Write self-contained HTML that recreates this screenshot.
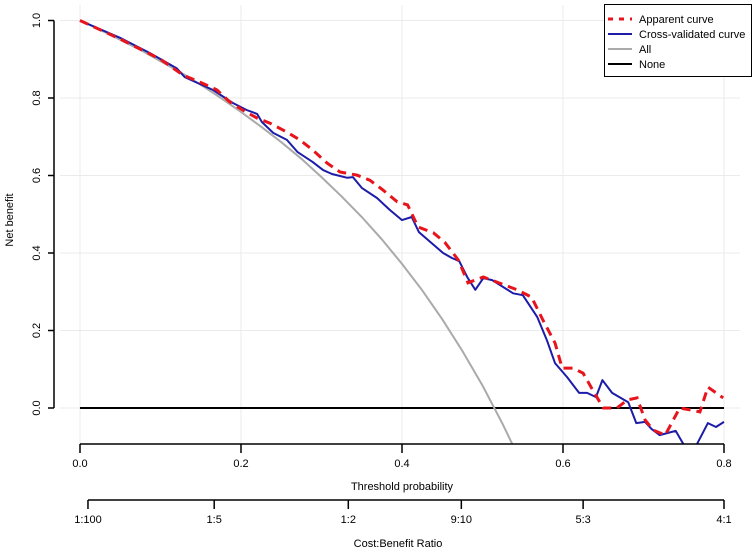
<!DOCTYPE html>
<html><head><meta charset="utf-8">
<style>
html,body{margin:0;padding:0;background:#fff;}
svg{display:block;font-family:"Liberation Sans",sans-serif;}
</style></head>
<body>
<svg id="chart" width="754" height="552" viewBox="0 0 754 552">
<defs><clipPath id="plotclip"><rect x="60" y="0" width="680" height="444.5"/></clipPath></defs>
<g id="grid"></g>
<g id="series" clip-path="url(#plotclip)"></g>
<g id="axes"></g>
<g id="legend">
<rect x="604.5" y="4.5" width="147" height="72" fill="#fff" stroke="#000" stroke-width="1"/>
<g><line x1="608" y1="19" x2="632" y2="19" stroke="#e8141c" stroke-width="3" stroke-dasharray="5,6"/><text x="639" y="23" font-size="11">Apparent curve</text></g>
<g><line x1="608" y1="34" x2="632" y2="34" stroke="#1c1ca8" stroke-width="2"/><text x="639" y="38" font-size="11">Cross-validated curve</text></g>
<g><line x1="608" y1="49" x2="632" y2="49" stroke="#aaaaaa" stroke-width="2"/><text x="639" y="53" font-size="11">All</text></g>
<g><line x1="608" y1="64" x2="632" y2="64" stroke="#000" stroke-width="2"/><text x="639" y="68" font-size="11">None</text></g>
</g>
</svg>
<script>
const xTicks=[0,0.2,0.4,0.6,0.8];
const xTickLabels=["0.0","0.2","0.4","0.6","0.8"];
const yTicks=[0,0.2,0.4,0.6,0.8,1.0];
const yTickLabels=["0.0","0.2","0.4","0.6","0.8","1.0"];
const ratioTicks=[0.0099,0.1667,0.3333,0.4737,0.625,0.8];
const ratioLabels=["1:100","1:5","1:2","9:10","5:3","4:1"];
const allX=[0,0.025,0.05,0.075,0.1,0.125,0.15,0.175,0.2,0.225,0.25,0.275,0.3,0.325,0.35,0.375,0.4,0.425,0.45,0.475,0.5,0.525,0.54];
const allY=[1,0.976,0.95,0.924,0.895,0.866,0.834,0.8,0.764,0.726,0.686,0.643,0.596,0.546,0.493,0.435,0.372,0.304,0.229,0.147,0.058,-0.041,-0.106];
const cvX=[0,0.05,0.087,0.12,0.13,0.165,0.19,0.207,0.22,0.226,0.24,0.257,0.27,0.289,0.302,0.313,0.332,0.339,0.35,0.369,0.385,0.4,0.412,0.421,0.451,0.462,0.471,0.481,0.491,0.501,0.512,0.538,0.55,0.568,0.58,0.59,0.605,0.62,0.63,0.641,0.649,0.661,0.681,0.691,0.702,0.71,0.72,0.74,0.75,0.766,0.78,0.79,0.8];
const cvY=[1,0.955,0.916,0.877,0.854,0.821,0.787,0.769,0.759,0.738,0.71,0.692,0.661,0.635,0.614,0.604,0.594,0.596,0.568,0.542,0.511,0.485,0.493,0.454,0.4,0.387,0.379,0.338,0.305,0.335,0.33,0.296,0.291,0.235,0.175,0.116,0.08,0.039,0.039,0.028,0.072,0.039,0.015,-0.039,-0.036,-0.054,-0.07,-0.059,-0.095,-0.095,-0.039,-0.049,-0.036];
const apX=[0,0.05,0.1,0.128,0.149,0.17,0.186,0.202,0.22,0.236,0.257,0.273,0.289,0.307,0.323,0.344,0.36,0.376,0.394,0.407,0.42,0.439,0.453,0.47,0.482,0.501,0.518,0.543,0.561,0.575,0.59,0.599,0.612,0.625,0.637,0.65,0.667,0.68,0.692,0.702,0.712,0.727,0.745,0.758,0.77,0.78,0.799];
const apY=[1,0.952,0.9,0.859,0.841,0.821,0.79,0.769,0.748,0.735,0.712,0.692,0.666,0.632,0.609,0.601,0.588,0.563,0.532,0.524,0.467,0.452,0.428,0.382,0.323,0.338,0.325,0.305,0.286,0.227,0.168,0.103,0.103,0.09,0.046,0,0,0.021,0.026,-0.031,-0.057,-0.07,0,-0.005,-0.01,0.054,0.026];

const X=v=>80+v*805;
const Y=v=>408-v*387.5;
const NS="http://www.w3.org/2000/svg";
function mk(tag,attrs,parent,text){const e=document.createElementNS(NS,tag);for(const k in attrs)e.setAttribute(k,attrs[k]);if(text!==undefined)e.textContent=text;parent.appendChild(e);return e;}
const grid=document.getElementById('grid'),series=document.getElementById('series'),axes=document.getElementById('axes');

xTicks.forEach(t=>{const l=mk('line',{x1:X(t),x2:X(t),y1:5,y2:444,stroke:'#ebebeb','stroke-width':1},grid);

});
yTicks.forEach(t=>{const l=mk('line',{x1:60,x2:740,y1:Y(t),y2:Y(t),stroke:'#ebebeb','stroke-width':1},grid);

});

function path(xs,ys){return xs.map((x,i)=>(i?'L':'M')+X(x).toFixed(1)+','+Y(ys[i]).toFixed(1)).join(' ');}
const none=mk('line',{x1:X(0),x2:X(0.8),y1:Y(0),y2:Y(0),stroke:'#000','stroke-width':2},series);


const allP=mk('path',{d:path(allX,allY),fill:'none',stroke:'#aaaaaa','stroke-width':2},series);


const cvP=mk('path',{d:path(cvX,cvY),fill:'none',stroke:'#1c1ca8','stroke-width':2,'stroke-linejoin':'round'},series);


const apP=mk('path',{d:path(apX,apY),fill:'none',stroke:'#e8141c','stroke-width':3,'stroke-dasharray':'9,6'},series);



const xa=mk('line',{x1:X(0),x2:X(0.8),y1:444,y2:444,stroke:'#000','stroke-width':1.5},axes);


xTicks.forEach((t,i)=>{mk('line',{x1:X(t),x2:X(t),y1:444,y2:453,stroke:'#000','stroke-width':1.5},axes);
const tx=mk('text',{x:X(t),y:467,'font-size':11,'text-anchor':'middle'},axes,xTickLabels[i]);

});
const xt=mk('text',{x:X(0.4),y:490,'font-size':11,'text-anchor':'middle'},axes,'Threshold probability');


const ya=mk('line',{x1:54,x2:54,y1:Y(1),y2:Y(0),stroke:'#000','stroke-width':1.5},axes);


yTicks.forEach((t,i)=>{mk('line',{x1:48,x2:54,y1:Y(t),y2:Y(t),stroke:'#000','stroke-width':1.5},axes);
const tx=mk('text',{x:40,y:Y(t),'font-size':11,'text-anchor':'middle',transform:`rotate(-90 40 ${Y(t)})`},axes,yTickLabels[i]);

});
const yt=mk('text',{x:13,y:220,'font-size':11,'text-anchor':'middle',transform:'rotate(-90 13 220)'},axes,'Net benefit');


const ra=mk('line',{x1:X(ratioTicks[0]),x2:X(0.8),y1:500,y2:500,stroke:'#000','stroke-width':1.5},axes);


ratioTicks.forEach((t,i)=>{mk('line',{x1:X(t),x2:X(t),y1:500,y2:509,stroke:'#000','stroke-width':1.5},axes);
const tx=mk('text',{x:X(t),y:523,'font-size':11,'text-anchor':'middle'},axes,ratioLabels[i]);

});
const rt=mk('text',{x:X(0.4)-4,y:547,'font-size':11,'text-anchor':'middle'},axes,'Cost:Benefit Ratio');


</script>
</body></html>
